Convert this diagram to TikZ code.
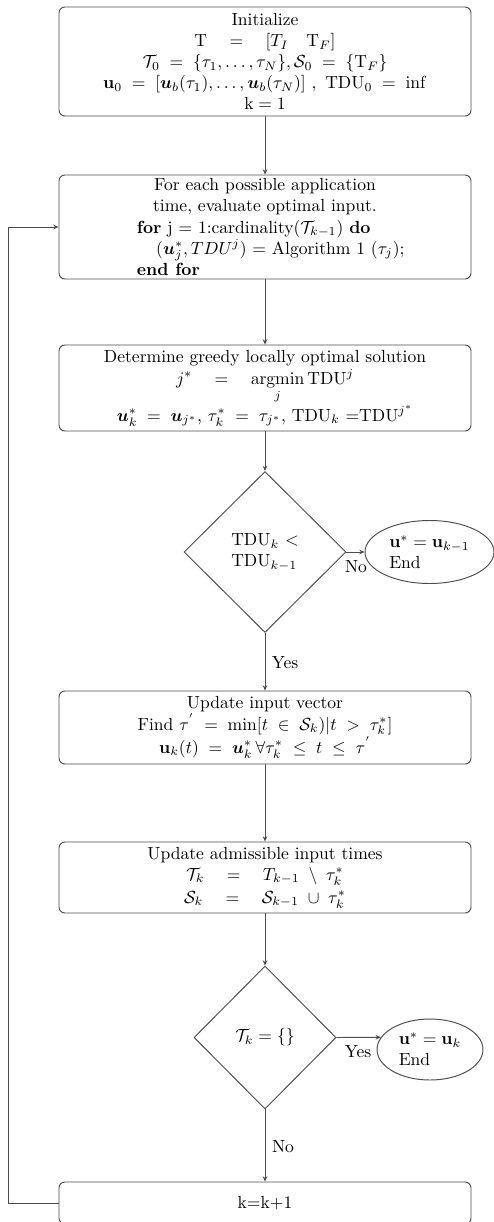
\documentclass[tikz,border=0pt]{standalone}
\usepackage{amsmath,amssymb}
\usetikzlibrary{shapes.geometric,arrows.meta}
\def\pxu{0.57pt}
\begin{document}
\begin{tikzpicture}[x=\pxu,y=-\pxu,
  line/.style={draw=black!70, line width=0.55pt},
  box/.style={line, rectangle, rounded corners=3.4pt, minimum width=412*\pxu, inner sep=0pt, align=center},
  dec/.style={line, diamond, inner sep=0pt, align=left},
  term/.style={line, ellipse, inner sep=0pt, align=left},
  conn/.style={line, -{Stealth[length=3pt,width=2.6pt]}},
  lbl/.style={inner sep=0pt}]
\useasboundingbox (0,0) rectangle (494,1222);

\node[box, minimum height=109*\pxu] (b1) at (265,61.5) {Initialize\\
$\mathrm{T} \quad = \quad [T_I \quad \mathrm{T}_F]$\\
$\mathcal{T}_0 \;=\; \{\tau_1,\ldots,\tau_N\}, \mathcal{S}_0 \;=\; \{\mathrm{T}_F\}$\\
$\mathbf{u}_0 \;=\; [\boldsymbol{u}_b(\tau_1),\ldots,\boldsymbol{u}_b(\tau_N)]\ ,\ \mathrm{TDU}_0 \;=\; \inf$\\
$\mathrm{k} = 1$};

\node[box, minimum height=104*\pxu] (b2) at (265,227) {For each possible application\\
time, evaluate optimal input.\\
\makebox[146pt][l]{\textbf{for} j = 1:cardinality($\mathcal{T}_{k-1}$) \textbf{do}}\\
\makebox[146pt][l]{\hspace*{11pt}($\boldsymbol{u}_j^*, TDU^j$) = Algorithm 1 ($\tau_j$);}\\
\makebox[146pt][l]{\textbf{end for}}};

\node[box, minimum height=86*\pxu] (b3) at (265,388) {Determine greedy locally optimal solution\\[1pt]
$\displaystyle j^* \quad = \quad \operatorname*{argmin}_j \mathrm{TDU}^j$\\
$\boldsymbol{u}_k^* \;=\; \boldsymbol{u}_{j^*}$, $\tau_k^* \;=\; \tau_{j^*}$, TDU$_k$ =TDU$^{j^*}$};

\node[dec, minimum width=162*\pxu, minimum height=161*\pxu] (d1) at (265,552) {TDU$_k$ $<$\\TDU$_{k-1}$};
\node[term, minimum width=129*\pxu, minimum height=63*\pxu] (e1) at (429.5,552) {$\mathbf{u}^* = \mathbf{u}_{k-1}$\\End};

\node[box, minimum height=73*\pxu] (b4) at (265,727.5) {Update input vector\\
Find $\tau^{'} \;=\; \min[t \;\in\; \mathcal{S}_k)|t \;>\; \tau_k^*]$\\
$\mathbf{u}_k(t) \;=\; \boldsymbol{u}_k^*\,\forall\tau_k^* \;\le\; t \;\le\; \tau^{'}$};

\node[box, minimum height=71*\pxu] (b5) at (265,877.5) {Update admissible input times\\
$\mathcal{T}_k \quad = \quad T_{k-1} \;\setminus\; \tau_k^*$\\[1pt]
$\mathcal{S}_k \quad = \quad \mathcal{S}_{k-1} \;\cup\; \tau_k^*$};

\node[dec, minimum width=142*\pxu, minimum height=143*\pxu] (d2) at (265,1037.5) {$\mathcal{T}_k = \{\}$};
\node[term, minimum width=106*\pxu, minimum height=61*\pxu] (e2) at (430,1049.5) {$\mathbf{u}^* = \mathbf{u}_k$\\End};

\node[box, minimum height=42*\pxu] (b6) at (265,1203) {k=k+1};

\coordinate (fb) at (8,1203);

\draw[conn] (b1) -- (b2);
\draw[conn] (b2) -- (b3);
\draw[conn] (b3) -- (d1);
\draw[conn] (d1.east) -- (e1.west);
\draw[conn] (d1.south) -- (b4.north);
\draw[conn] (b4) -- (b5);
\draw[conn] (b5) -- (d2);
\draw[conn] (d2.east) -- (e2.166);
\draw[conn] (d2.south) -- (b6.north);
\draw[conn] (b6.west) -- (fb) |- (b2.west);

\node[lbl] (l1) at (356,567) {No};
\node[lbl] (l2) at (285,663) {Yes};
\node[lbl] (l3) at (358,1052) {Yes};
\node[lbl] (l4) at (283,1147) {No};
\end{tikzpicture}
\end{document}
